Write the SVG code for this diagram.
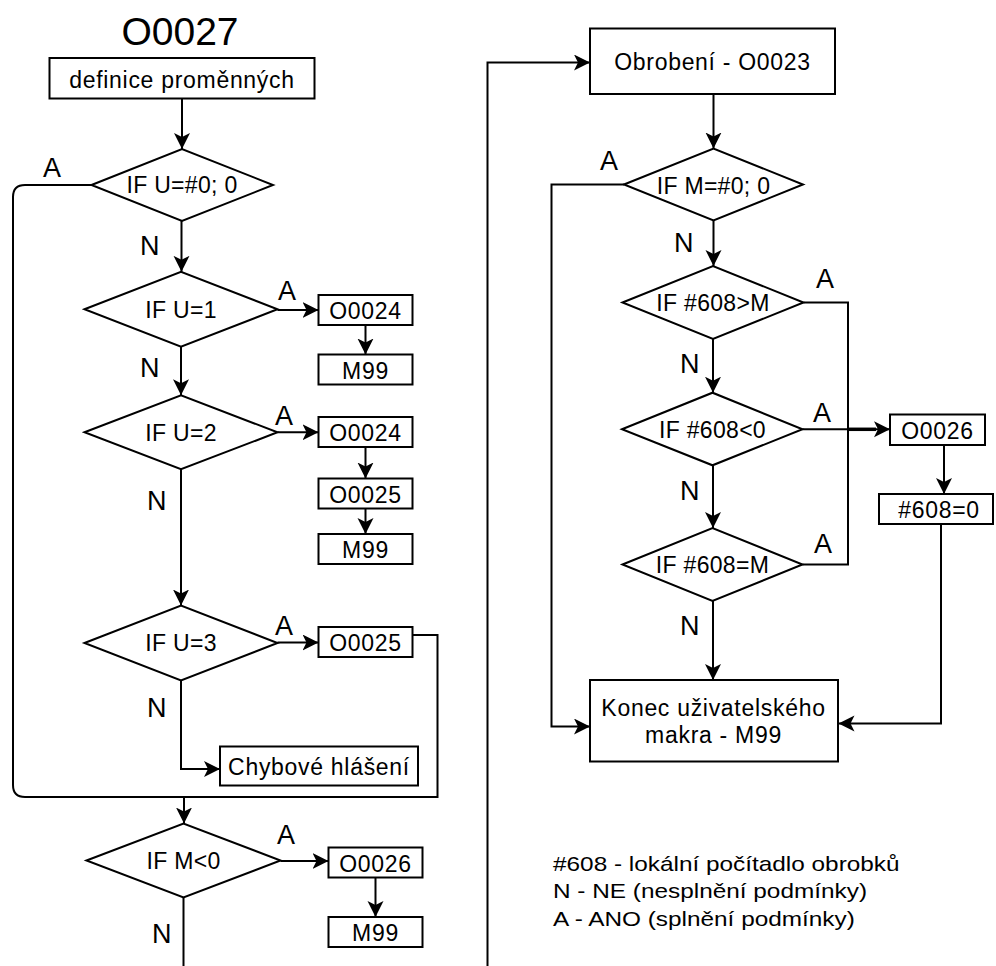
<svg xmlns="http://www.w3.org/2000/svg" width="996" height="966" viewBox="0 0 996 966">
<style>
  .shape { fill: #ffffff; stroke: #000000; stroke-width: 2; }
  .line { fill: none; stroke: #000000; stroke-width: 2; }
  .arrow { fill: none; stroke: #000000; stroke-width: 2; marker-end: url(#ah); }
  text { font-family: "Liberation Sans", Arial, sans-serif; fill: #000000; }
  .bt { font-size: 23px; text-anchor: middle; letter-spacing: 0.7px; }
  .dt { font-size: 23px; text-anchor: middle; letter-spacing: 0.3px; }
  .lbl { font-size: 27px; }
  .title { font-size: 39px; text-anchor: middle; }
  .legend { font-size: 21px; }
</style>
<defs>
  <marker id="ah" markerUnits="userSpaceOnUse" markerWidth="18" markerHeight="18" viewBox="0 0 18 18" refX="16" refY="8" orient="auto">
    <path d="M0,0 L16,8 L0,16 L4,8 Z" fill="#000000"/>
  </marker>
</defs>
<rect width="996" height="966" fill="#ffffff"/>

<g id="connectors">
  <!-- left column -->
  <path class="arrow" d="M182,98.5 V149"/>
  <path class="line" d="M91.5,185 H25 Q13,185 13,197 V785 Q13,797 25,797 H185"/>
  <path class="arrow" d="M181.5,221 V271.8"/>
  <path class="arrow" d="M277.5,310 H318.5"/>
  <path class="arrow" d="M365.5,325 V354.5"/>
  <path class="arrow" d="M181,346.8 V395.3"/>
  <path class="arrow" d="M277.5,432.3 H318.5"/>
  <path class="arrow" d="M365.5,447 V478.5"/>
  <path class="arrow" d="M365.5,508.5 V534"/>
  <path class="arrow" d="M181,469.3 V605.5"/>
  <path class="arrow" d="M277.5,642.5 H318.5"/>
  <path class="line" d="M412.5,635 H437.5 V797 H185"/>
  <path class="arrow" d="M181,680.5 V769 H220"/>
  <path class="arrow" d="M184,797 V823.5"/>
  <path class="arrow" d="M280.5,861 H328.5"/>
  <path class="arrow" d="M375.5,877.5 V917"/>
  <path class="line" d="M183.5,897.5 V966"/>
  <!-- right column -->
  <path class="arrow" d="M487.5,966 V62.5 H590"/>
  <path class="arrow" d="M713.5,94 V148.5"/>
  <path class="arrow" d="M624,184.5 H551.5 V726.5 H590"/>
  <path class="arrow" d="M713.5,220.5 V266"/>
  <path class="line" d="M803.5,302.5 H848 V564.5 H802.5"/>
  <path class="arrow" d="M713,339 V392.7"/>
  <path class="arrow" d="M802.5,429.3 H890"/>
  <path class="line" d="M848,429.3 H876" style="stroke-width:3.5"/>
  <path class="arrow" d="M944,445 V494"/>
  <path class="arrow" d="M941,524 V723.5 H838.5"/>
  <path class="arrow" d="M713,465.3 V528"/>
  <path class="arrow" d="M713,601 V680"/>
</g>

<g id="labels">
  <text class="lbl" x="43" y="177">A</text>
  <text class="lbl" x="140" y="255">N</text>
  <text class="lbl" x="278" y="300">A</text>
  <text class="lbl" x="140" y="377">N</text>
  <text class="lbl" x="275" y="425">A</text>
  <text class="lbl" x="147" y="510">N</text>
  <text class="lbl" x="275" y="635">A</text>
  <text class="lbl" x="147" y="717">N</text>
  <text class="lbl" x="277" y="844">A</text>
  <text class="lbl" x="152" y="943">N</text>
  <text class="lbl" x="600" y="170">A</text>
  <text class="lbl" x="674" y="252">N</text>
  <text class="lbl" x="816" y="288">A</text>
  <text class="lbl" x="680" y="373">N</text>
  <text class="lbl" x="813" y="422">A</text>
  <text class="lbl" x="680" y="500">N</text>
  <text class="lbl" x="814" y="553">A</text>
  <text class="lbl" x="680" y="635">N</text>
</g>

<g id="title"><text class="title" x="180" y="45">O0027</text></g>

<g id="n-definice"><rect class="shape" x="49.5" y="58" width="265" height="40.5"/><text class="bt" x="182" y="87.5">definice proměnných</text></g>
<g id="d-u0"><polygon class="shape" points="91.5,185 182,149 273,185 182,221"/><text class="dt" x="182" y="193">IF U=#0; 0</text></g>
<g id="d-u1"><polygon class="shape" points="84.5,309.3 181,271.8 277.5,309.3 181,346.8"/><text class="dt" x="181" y="317.5">IF U=1</text></g>
<g id="n-o0024a"><rect class="shape" x="318.5" y="295" width="94" height="30"/><text class="bt" x="365.5" y="319">O0024</text></g>
<g id="n-m99a"><rect class="shape" x="318.5" y="354.5" width="94" height="30"/><text class="bt" x="365.5" y="378.5">M99</text></g>
<g id="d-u2"><polygon class="shape" points="84.5,432.3 181,395.3 277.5,432.3 181,469.3"/><text class="dt" x="181" y="440.5">IF U=2</text></g>
<g id="n-o0024b"><rect class="shape" x="318.5" y="417" width="94" height="30"/><text class="bt" x="365.5" y="441">O0024</text></g>
<g id="n-o0025a"><rect class="shape" x="318.5" y="478.5" width="94" height="30"/><text class="bt" x="365.5" y="502.5">O0025</text></g>
<g id="n-m99b"><rect class="shape" x="318.5" y="534" width="94" height="30"/><text class="bt" x="365.5" y="558">M99</text></g>
<g id="d-u3"><polygon class="shape" points="84.5,643 181,605.5 277.5,643 181,680.5"/><text class="dt" x="181" y="651.3">IF U=3</text></g>
<g id="n-o0025b"><rect class="shape" x="318.5" y="627" width="94" height="30"/><text class="bt" x="365.5" y="651">O0025</text></g>
<g id="n-chyb"><rect class="shape" x="220" y="746.5" width="198" height="39"/><text class="bt" x="319" y="774.5">Chybové hlášení</text></g>
<g id="d-m0"><polygon class="shape" points="86.5,860.5 183.5,823.5 280.5,860.5 183.5,897.5"/><text class="dt" x="183.5" y="869">IF M&lt;0</text></g>
<g id="n-o0026a"><rect class="shape" x="328.5" y="847.5" width="94" height="30"/><text class="bt" x="375.5" y="871.5">O0026</text></g>
<g id="n-m99c"><rect class="shape" x="328.5" y="917" width="94" height="30"/><text class="bt" x="375.5" y="941">M99</text></g>

<g id="n-obrobeni"><rect class="shape" x="590" y="28.5" width="245" height="65.5"/><text class="bt" x="712.5" y="70">Obrobení - O0023</text></g>
<g id="d-m00"><polygon class="shape" points="624,184.5 713.5,148.5 803,184.5 713.5,220.5"/><text class="dt" x="713.5" y="193.5">IF M=#0; 0</text></g>
<g id="d-gt"><polygon class="shape" points="622.5,302.5 713,266 803.5,302.5 713,339"/><text class="dt" x="713" y="311">IF #608&gt;M</text></g>
<g id="d-lt"><polygon class="shape" points="622,429.3 712.5,392.7 802.5,429.3 712.5,465.3"/><text class="dt" x="712.5" y="437.5">IF #608&lt;0</text></g>
<g id="n-o0026b"><rect class="shape" x="890" y="414.5" width="95" height="30.5"/><text class="bt" x="937.5" y="438.5">O0026</text></g>
<g id="n-reset"><rect class="shape" x="879" y="494" width="114" height="30"/><text class="bt" x="939" y="518">#608=0</text></g>
<g id="d-eq"><polygon class="shape" points="622.5,564.5 712.5,528 802.5,564.5 712.5,601"/><text class="dt" x="712.5" y="573">IF #608=M</text></g>
<g id="n-konec"><rect class="shape" x="590" y="680" width="248" height="81.5"/><text class="bt" x="713.5" y="716">Konec uživatelského</text><text class="bt" x="713.5" y="743">makra - M99</text></g>

<g id="legend" transform="translate(553,0) scale(1.16,1)">
  <text class="legend" x="0" y="871">#608 - lokální počítadlo obrobků</text>
  <text class="legend" x="0" y="898.5">N - NE (nesplnění podmínky)</text>
  <text class="legend" x="0" y="926.5">A - ANO (splnění podmínky)</text>
</g>
</svg>
